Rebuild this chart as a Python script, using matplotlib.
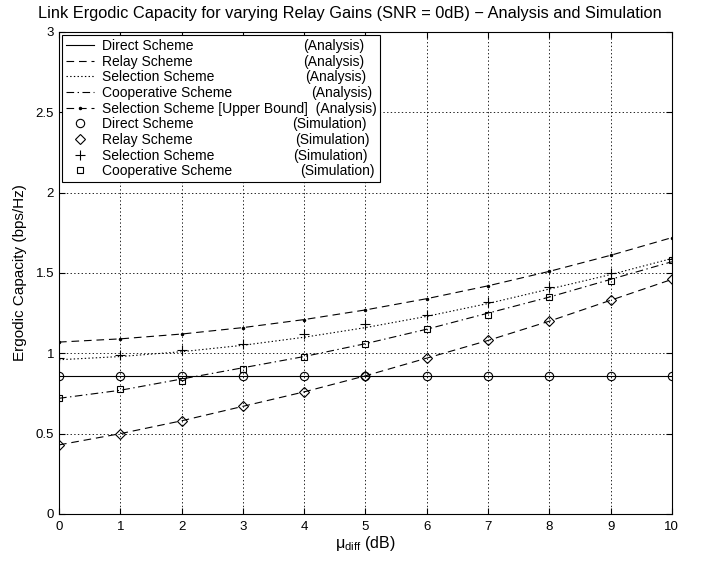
import numpy as np
import matplotlib
matplotlib.use("Agg")
import matplotlib.pyplot as plt

plt.rcParams['font.family'] = ['Liberation Sans', 'DejaVu Sans']
plt.rcParams['lines.scale_dashes'] = False

mu_diff = [0, 1, 2, 3, 4, 5, 6, 7, 8, 9, 10]

# analysis curves
direct_ana = [0.86] * 11
relay_ana = [0.43, 0.50, 0.58, 0.67, 0.76, 0.86, 0.97, 1.08, 1.20, 1.33, 1.46]
selection_ana = [0.96, 0.98, 1.01, 1.05, 1.10, 1.16, 1.23, 1.31, 1.40, 1.49, 1.59]
coop_ana = [0.72, 0.77, 0.84, 0.91, 0.98, 1.06, 1.15, 1.25, 1.35, 1.46, 1.57]
upper_ana = [1.07, 1.09, 1.12, 1.16, 1.21, 1.27, 1.34, 1.42, 1.51, 1.61, 1.72]

# simulation points
direct_sim = [0.86] * 11
relay_sim = [0.43, 0.50, 0.58, 0.67, 0.76, 0.86, 0.97, 1.08, 1.20, 1.33, 1.46]
selection_sim = [0.97, 0.99, 1.02, 1.06, 1.12, 1.18, 1.24, 1.32, 1.41, 1.50, 1.59]
coop_sim = [0.72, 0.78, 0.83, 0.90, 0.98, 1.06, 1.15, 1.24, 1.35, 1.45, 1.58]

names = ['Direct Scheme', 'Relay Scheme', 'Selection Scheme', 'Cooperative Scheme',
         'Selection Scheme [Upper Bound]  (Analysis)',
         'Direct Scheme', 'Relay Scheme', 'Selection Scheme', 'Cooperative Scheme']
# the "(Analysis)" / "(Simulation)" tags sit at ragged x positions (pixels)
suffixes = ['(Analysis)', '(Analysis)', '(Analysis)', '(Analysis)', None,
            '(Simulation)', '(Simulation)', '(Simulation)', '(Simulation)']
suffix_x = [303, 303, 305.5, 311, None, 292, 295, 293, 300]

fig = plt.figure(figsize=(7.05, 5.61), dpi=100)
ax = fig.add_axes([0.0837, 0.0838, 0.8693, 0.8592])

lw = 0.8
ax.plot(mu_diff, direct_ana, 'k-', lw=lw, label=names[0])
ax.plot(mu_diff, relay_ana, 'k-', lw=lw, dashes=(5.5, 3.5), label=names[1])
ax.plot(mu_diff, selection_ana, 'k:', lw=lw, label=names[2])
ax.plot(mu_diff, coop_ana, 'k-', lw=lw, dashes=(5.5, 2.5, 1, 2.5), label=names[3])
ax.plot(mu_diff, upper_ana, 'k-', lw=lw, dashes=(5.5, 3.5), marker='.', ms=3,
        label=names[4])

ax.plot(mu_diff, direct_sim, 'ko', mfc='none', ms=6, mew=0.8, ls='none', label=names[5])
ax.plot(mu_diff, relay_sim, 'kD', mfc='none', ms=5.5, mew=0.8, ls='none', label=names[6])
ax.plot(mu_diff, selection_sim, 'k+', ms=7, mew=0.8, ls='none', label=names[7])
ax.plot(mu_diff, coop_sim, 'ks', mfc='none', ms=5, mew=0.8, ls='none', label=names[8])

ax.set_xlim(0, 10)
ax.set_ylim(0, 3)
ax.set_xticks(range(0, 11))
ax.set_yticks([0, 0.5, 1, 1.5, 2, 2.5, 3])
ax.set_yticklabels(['0', '0.5', '1', '1.5', '2', '2.5', '3'])
ax.tick_params(direction='in', top=True, right=True, labelsize=9.5, length=4)
ax.tick_params(axis='x', pad=5)
ax.grid(True, color='k', linestyle=':', linewidth=0.6)
for s in ax.spines.values():
    s.set_linewidth(0.8)

ax.set_xlabel(r'$\mathregular{\mu_{diff}}$ (dB)', fontsize=11.5, labelpad=1)
ax.set_ylabel('Ergodic Capacity (bps/Hz)', fontsize=11, labelpad=6)
ax.set_title('Link Ergodic Capacity for varying Relay Gains (SNR = 0dB) \u2212 Analysis and Simulation',
             fontsize=11.8, pad=10, x=0.475)

leg = ax.legend(loc='upper left', fontsize=10, handlelength=2.0, borderaxespad=0.25,
                labelspacing=0.12, handletextpad=0.6, borderpad=0.25, fancybox=False,
                framealpha=1, edgecolor='k')
leg.get_frame().set_linewidth(0.8)

fig.canvas.draw()
inv = fig.transFigure.inverted()
for txt, suf, sx in zip(leg.get_texts(), suffixes, suffix_x):
    if suf is None:
        continue
    bb = txt.get_window_extent()
    fx, fy = inv.transform((sx, bb.y0))
    fig.text(fx, fy, suf, fontsize=10, va='bottom', ha='left', zorder=10)

fig.savefig('out.png', dpi=100)
